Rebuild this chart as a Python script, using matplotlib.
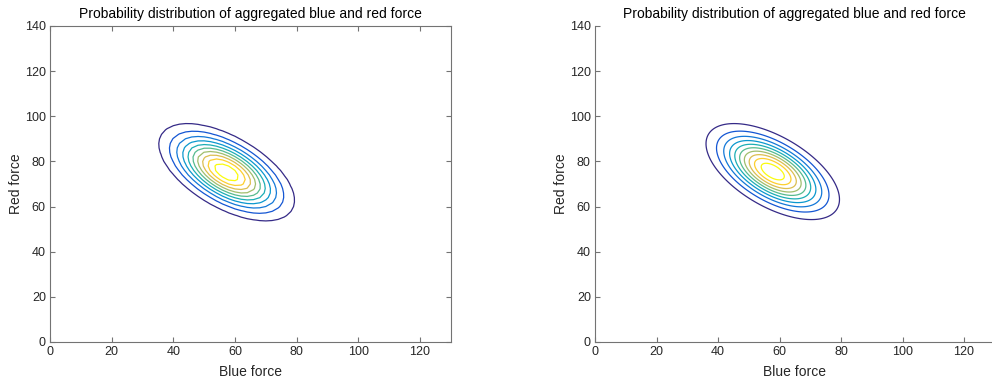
import numpy as np
import matplotlib.pyplot as plt
from matplotlib.colors import LinearSegmentedColormap

# parula-like colormap (MATLAB default), sampled anchors
parula_colors = [
    (0.2081, 0.1663, 0.5292),
    (0.0591, 0.3598, 0.8683),
    (0.0779, 0.5040, 0.8384),
    (0.0231, 0.6418, 0.7913),
    (0.1801, 0.7177, 0.6424),
    (0.5300, 0.7491, 0.4661),
    (0.8185, 0.7327, 0.3498),
    (0.9955, 0.7861, 0.1967),
    (0.9763, 0.9831, 0.0538),
]
parula = LinearSegmentedColormap.from_list("parula", parula_colors)

# estimated distribution parameters: [mean blue, mean red], [sd blue, sd red], correlation
empirical_mean = [57.3, 75.2]
empirical_sd = [10.1, 9.9]
empirical_rho = -0.58

fitted_mean = [57.8, 75.5]
fitted_sd = [10.0, 9.8]
fitted_rho = -0.58

# contour levels as fraction of peak density
level_fractions = [0.095, 0.188, 0.281, 0.374, 0.467, 0.560, 0.653, 0.746, 0.839, 0.932]

title = "Probability distribution of aggregated blue and red force"
x_ticks = [0, 20, 40, 60, 80, 100, 120]
y_ticks = [0, 20, 40, 60, 80, 100, 120, 140]


def density(mean, sd, rho, step):
    x = np.arange(0, 130 + step, step)
    y = np.arange(0, 140 + step, step)
    X, Y = np.meshgrid(x, y)
    zx = (X - mean[0]) / sd[0]
    zy = (Y - mean[1]) / sd[1]
    q = (zx ** 2 - 2 * rho * zx * zy + zy ** 2) / (1 - rho ** 2)
    Z = np.exp(-q / 2) / (2 * np.pi * sd[0] * sd[1] * np.sqrt(1 - rho ** 2))
    return X, Y, Z


plt.rcParams['font.family'] = ['Liberation Sans', 'DejaVu Sans']
grey = (0.15, 0.15, 0.15)
axis_grey = (0.45, 0.45, 0.45)

fig = plt.figure(figsize=(9.92, 3.8), dpi=100)
ax1 = fig.add_axes([0.0504, 0.1, 0.404, 0.8316])
ax2 = fig.add_axes([0.5998, 0.1, 0.403, 0.8316])

panels = [
    (ax1, empirical_mean, empirical_sd, empirical_rho, 2.0, True),
    (ax2, fitted_mean, fitted_sd, fitted_rho, 0.25, False),
]

for ax, mean, sd, rho, step, box in panels:
    X, Y, Z = density(mean, sd, rho, step)
    levels = [f * Z.max() for f in level_fractions]
    ax.contour(X, Y, Z, levels=levels, cmap=parula, linewidths=0.9)
    ax.set_xlim(0, 130)
    ax.set_ylim(0, 140)
    ax.set_xticks(x_ticks)
    ax.set_yticks(y_ticks)
    ax.set_title(title, fontsize=10, color='black', pad=6)
    ax.set_xlabel("Blue force", fontsize=10, color=grey, labelpad=5)
    ax.set_ylabel("Red force", fontsize=10, color=grey, labelpad=1.5)
    ax.tick_params(direction='in', length=3.5, labelsize=9, colors=axis_grey,
                   labelcolor=grey, top=box, right=box, pad=3)
    for side in ['left', 'bottom', 'top', 'right']:
        ax.spines[side].set_color(axis_grey)
        ax.spines[side].set_linewidth(0.8)
    if not box:
        ax.spines['top'].set_visible(False)
        ax.spines['right'].set_visible(False)

fig.savefig("out.png", dpi=100)
